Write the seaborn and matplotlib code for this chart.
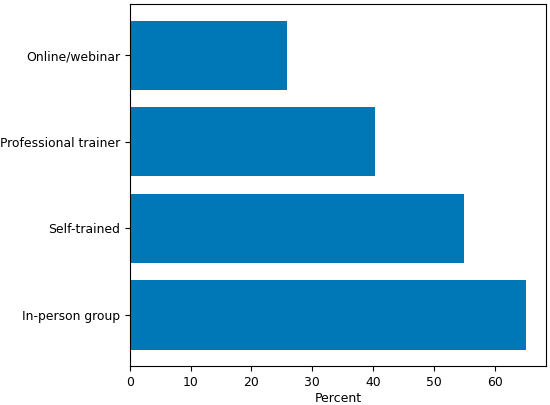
import pandas as pd
import matplotlib
matplotlib.use("Agg")
import matplotlib.pyplot as plt
import seaborn as sns

# Values (top to bottom)
categories = ["Online/webinar", "Professional trainer", "Self-trained", "In-person group"]
percents = [25.9, 40.4, 55.0, 65.2]

df = pd.DataFrame({"method": categories, "percent": percents})

sns.set_style("ticks")
plt.rcParams["font.family"] = ["DejaVu Sans"]
plt.rcParams["font.size"] = 9
for key in ["text.color", "axes.labelcolor", "xtick.color", "ytick.color", "axes.edgecolor"]:
    plt.rcParams[key] = "black"

fig, ax = plt.subplots(figsize=(5.5, 4.05), dpi=100)
sns.barplot(data=df, x="percent", y="method", orient="h", color="#0077b6",
            saturation=1, width=0.8, edgecolor="none", ax=ax)

ax.set_xlabel("Percent", fontsize=9, labelpad=2.5)
ax.set_ylabel("")
ax.tick_params(labelsize=8.9, length=3.5, width=0.8, pad=3.5)
ax.set_xlim(0, max(percents) * 1.05)
# matplotlib-style 5% margin around the bars
pad = 0.4 + 0.05 * (len(categories) - 1 + 0.8)
ax.set_ylim(len(categories) - 1 + pad, -pad)
for side in ["top", "right", "left", "bottom"]:
    ax.spines[side].set_visible(True)
    ax.spines[side].set_linewidth(0.8)

fig.subplots_adjust(left=0.236, right=0.993, top=0.990, bottom=0.096)
fig.savefig("out.png", dpi=100)
